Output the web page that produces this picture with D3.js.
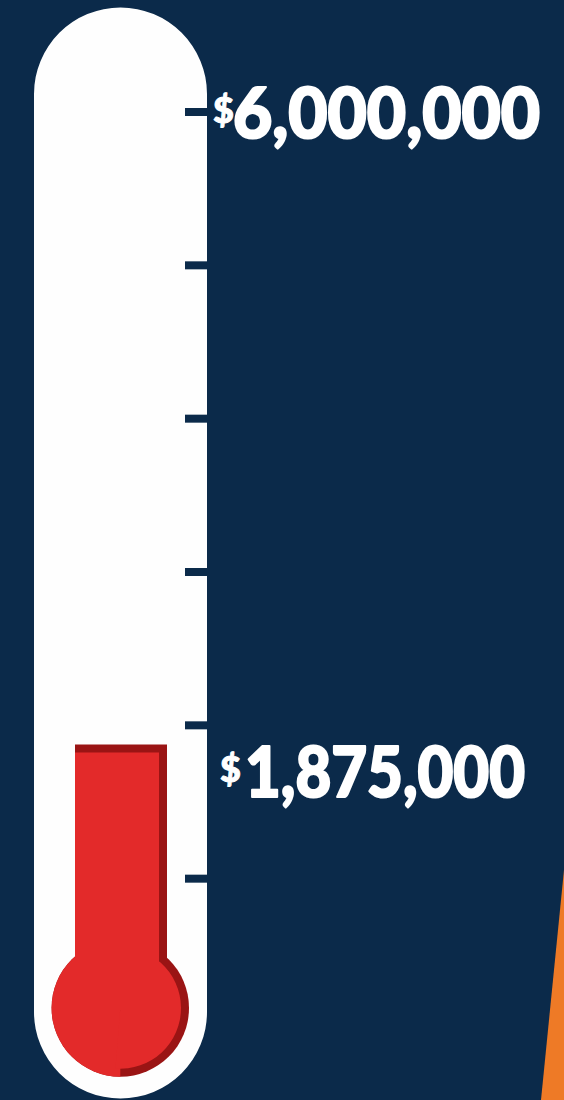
<!DOCTYPE html>
<html><head><meta charset="utf-8">
<script src="https://cdn.jsdelivr.net/npm/d3@7"></script>
<style>html,body{margin:0;padding:0;background:#0b2a4a;overflow:hidden}svg{display:block}</style>
</head><body>
<svg id="c" width="564" height="1100"></svg>
<script>
const goal = 6000000;
const raised = 1875000;
const tickValues = [6000000, 5000000, 4000000, 3000000, 2000000, 1000000];
const labels = [{value: 6000000, text: "6,000,000"}, {value: 1875000, text: "1,875,000"}];

const W = 564, H = 1100;
const svg = d3.select("#c");
const navy = "#0b2a4a", red = "#e32a2a", dark = "#9a1414", orange = "#ee7a26";

svg.append("rect").attr("width", W).attr("height", H).attr("fill", navy);
// orange corner
svg.append("path").attr("d", d3.line()([[564,870],[541,1100],[564,1100]])).attr("fill", orange);

const y = d3.scaleLinear().domain([0, goal]).range([1032, 112]);

// tube
const tx0 = 34, tx1 = 207, tr = (tx1 - tx0) / 2, tcx = (tx0 + tx1) / 2;
const topCy = 7.5 + tr, botCy = 1012;
const p = d3.path();
p.moveTo(tx0, topCy);
p.arc(tcx, topCy, tr, Math.PI, 0);
p.lineTo(tx1, botCy);
p.arc(tcx, botCy, tr, 0, Math.PI);
p.closePath();
svg.append("path").attr("d", p.toString()).attr("fill", "#fefefe");

// ticks
svg.selectAll(".tick").data(tickValues).join("rect")
  .attr("x", 185).attr("width", 23)
  .attr("y", d => y(d) - 4).attr("height", 8)
  .attr("fill", navy);

// mercury
const bx = 120.3, by = 1008, br = 68.7, sw = 8;
const fx0 = 75, fx1 = 167;
const fillTop = y(raised);
const g = svg.append("g");
g.append("rect").attr("x", fx0).attr("y", fillTop).attr("width", fx1 - fx0).attr("height", by - fillTop).attr("fill", dark);
g.append("circle").attr("cx", bx).attr("cy", by).attr("r", br).attr("fill", dark);
g.append("path").attr("transform", `translate(${bx},${by})`)
  .attr("d", d3.arc()({innerRadius: 0, outerRadius: br, startAngle: Math.PI, endAngle: 2 * Math.PI})).attr("fill", red);
g.append("path").attr("transform", `translate(${bx},${by})`)
  .attr("d", d3.arc()({innerRadius: 0, outerRadius: br - sw, startAngle: -0.1, endAngle: Math.PI + 0.08})).attr("fill", red);
g.append("rect").attr("x", fx0).attr("y", fillTop + sw).attr("width", fx1 - fx0 - sw).attr("height", by - fillTop - sw + 2).attr("fill", red);

// labels
const font = "Lato, 'Open Sans', sans-serif";
function label(d, baseline, dollarX, digitX, digitW) {
  const t = svg.append("g").attr("fill", "#fff").attr("stroke", "#fff")
    .attr("font-family", font).attr("font-weight", 900).attr("stroke-linejoin", "round");
  t.append("text").attr("x", dollarX).attr("y", baseline - 15)
    .attr("font-size", 36).attr("stroke-width", 1).text("$");
  t.append("text").attr("x", digitX).attr("y", baseline)
    .attr("font-size", 70).attr("stroke-width", 2.2)
    .attr("textLength", digitW).attr("lengthAdjust", "spacingAndGlyphs")
    .text(d.text);
}
label(labels[0], y(labels[0].value) + 26, 213, 233, 307);
label(labels[1], fillTop + 52, 220, 245, 280);
</script>
</body></html>
